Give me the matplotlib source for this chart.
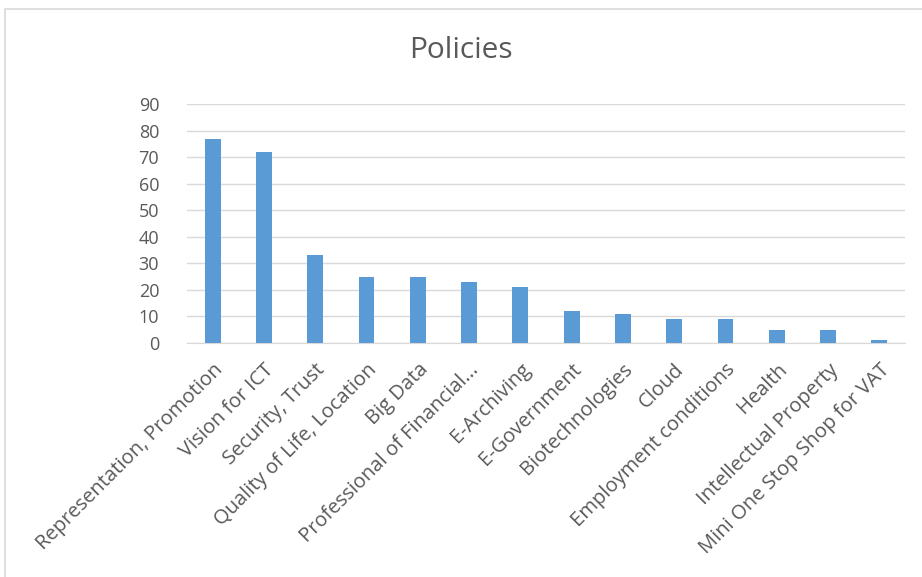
import matplotlib.pyplot as plt
from matplotlib.patches import Rectangle

# policy topics and counts
policies = [
    "Representation, Promotion", "Vision for ICT", "Security, Trust",
    "Quality of Life, Location", "Big Data", "Professional of Financial...",
    "E-Archiving", "E-Government", "Biotechnologies", "Cloud",
    "Employment conditions", "Health", "Intellectual Property",
    "Mini One Stop Shop for VAT",
]
counts = [77, 72, 33, 25, 25, 23, 21, 12, 11, 9, 9, 5, 5, 1]
yticks = list(range(0, 100, 10))

plt.rcParams['font.family'] = ['Open Sans', 'DejaVu Sans']
txt = '#595959'

fig = plt.figure(figsize=(9.22, 5.77), dpi=100)
ax = fig.add_axes([187 / 922, 1 - 343 / 577, 718 / 922, 239 / 577])

x = range(len(policies))
ax.bar(x, counts, width=0.31, color='#5B9BD5', zorder=3)

ax.set_xlim(-0.5, len(policies) - 0.5)
ax.set_ylim(0, 90)
ax.set_yticks(yticks)
ax.set_yticklabels([str(v) for v in yticks], fontsize=13, color=txt)
ax.set_xticks(list(x))
ax.set_xticklabels(policies, rotation=45, ha='right', va='top',
                   rotation_mode='anchor', fontsize=14.5, color=txt)
ax.tick_params(length=0)
ax.tick_params(axis='y', pad=20)
ax.tick_params(axis='x', pad=12)
ax.grid(axis='y', color='#d9d9d9', linewidth=1, zorder=0)
for s in ['top', 'right', 'left']:
    ax.spines[s].set_visible(False)
ax.spines['bottom'].set_color('#d9d9d9')

fig.text(0.5, 1 - 51 / 577, 'Policies', ha='center', va='center',
         fontsize=21.5, color=txt)

# chart area outline
fig.patches.append(Rectangle((5 / 922, -0.02), 1.0, 1 - 8.5 / 577 + 0.02,
                             transform=fig.transFigure, fill=False,
                             edgecolor='#d9d9d9', linewidth=1.2))

fig.savefig('out.png', dpi=100)
